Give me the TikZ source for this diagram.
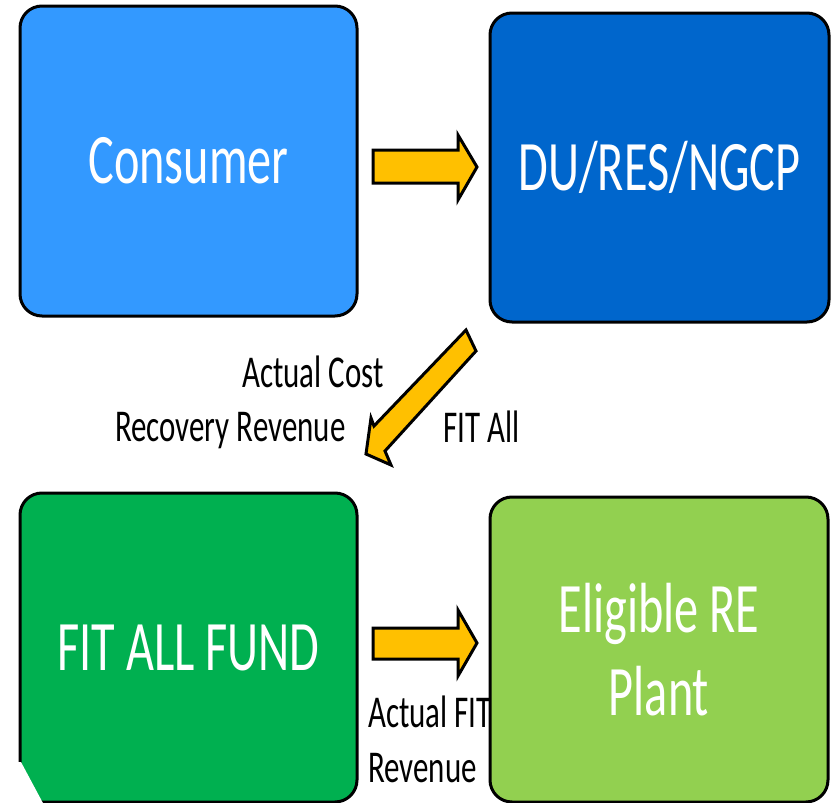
\documentclass[tikz,border=0pt]{standalone}
\usepackage{fontspec}
\setmainfont{Carlito}[FakeStretch=0.68]
\definecolor{consumerblue}{RGB}{51,153,255}
\definecolor{dublue}{RGB}{0,102,204}
\definecolor{fundgreen}{RGB}{0,176,80}
\definecolor{plantgreen}{RGB}{146,208,80}
\definecolor{arrowyellow}{RGB}{255,192,0}
\tikzset{
  box/.style={draw=black, line width=3pt, rounded corners=22pt, text=white,
    align=center, font=\fontsize{71}{83}\selectfont, inner sep=0pt},
  lbl/.style={inner sep=0pt, anchor=base west, text=black, font=\fontsize{45.5}{52}\selectfont},
  blockarrow/.style={fill=arrowyellow, draw=black, line width=3pt, line join=miter}
}
\begin{document}
\begin{tikzpicture}[x=1pt,y=-1pt]
\useasboundingbox (0,0) rectangle (831,803);
\node[box, fill=consumerblue, minimum width=337pt, minimum height=310pt] (cons) at (188.5,161) {Consumer};
\node[box, fill=dublue, minimum width=339pt, minimum height=309pt] (du) at (659.5,167.5) {DU/RES/NGCP};
\node[box, fill=fundgreen, minimum width=337pt, minimum height=309pt] (fund) at (188.5,647.5) {FIT ALL FUND};
\node[box, fill=plantgreen, minimum width=338pt, minimum height=305pt] (plant) at (659,649.5) {Eligible RE\\Plant};
\fill[white] (15,762) -- (21,762) -- (44,805) -- (15,805) -- cycle;
% block arrows
\draw[blockarrow] (373,150) -- (458,150) -- (458,135) -- (477,167) -- (458,200) -- (458,183) -- (373,183) -- cycle;
\draw[blockarrow] (373,628) -- (458,628) -- (458,610) -- (477,643) -- (458,676) -- (458,659) -- (373,659) -- cycle;
\draw[blockarrow] (466,330) -- (374,426) -- (371,418) -- (366,454) -- (391,465) -- (385,451) -- (476,351) -- cycle;
% labels
\node[lbl] (l1) at (242,387) {Actual Cost};
\node[lbl] (l2) at (115,441) {Recovery Revenue};
\node[lbl] (l3) at (443,442) {FIT All};
\node[lbl] (l4) at (368,727) {Actual FIT};
\node[lbl] (l5) at (368,782) {Revenue};
\end{tikzpicture}
\end{document}
